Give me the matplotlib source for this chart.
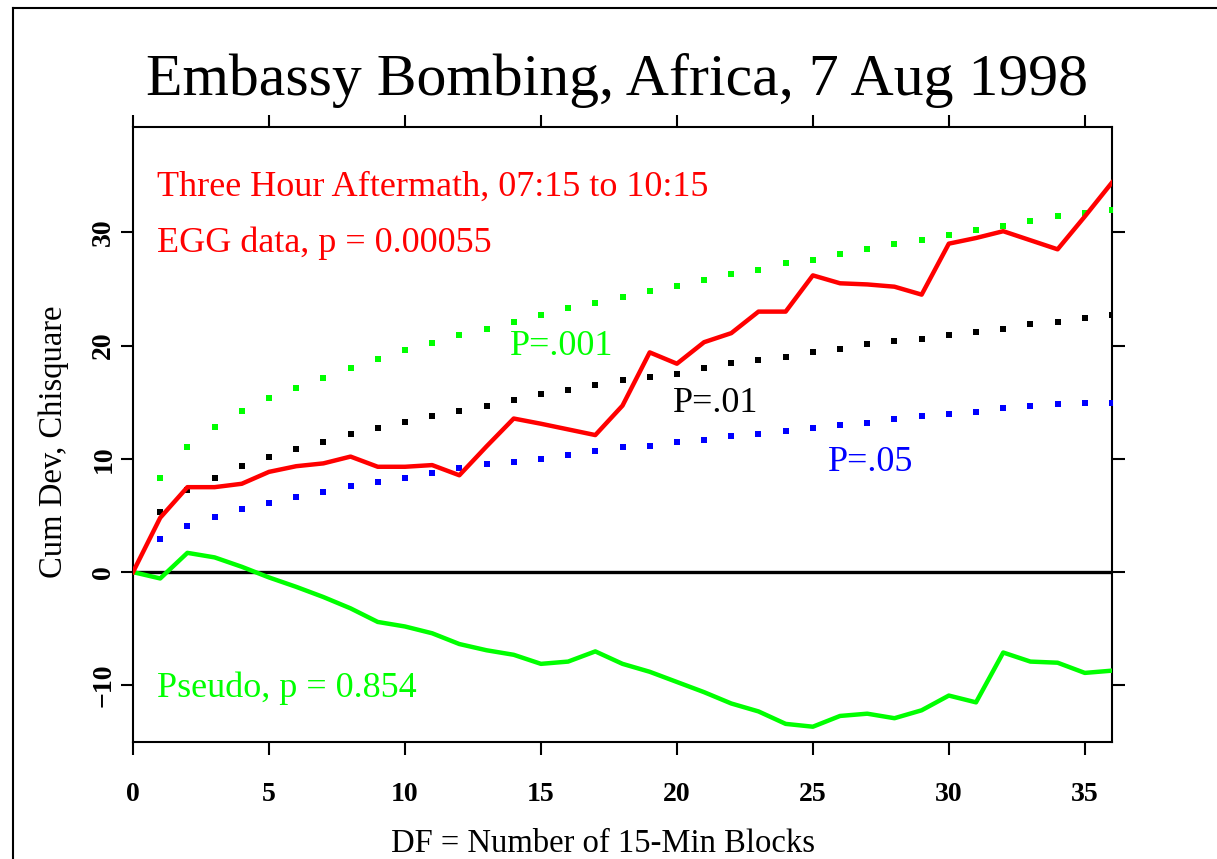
import matplotlib
matplotlib.use("Agg")
import matplotlib.pyplot as plt
from matplotlib.lines import Line2D

# ---- data ----
df = list(range(0, 37))
egg = [0.0, 4.8, 7.5, 7.5, 7.8, 8.85, 9.35, 9.6, 10.2, 9.3, 9.3, 9.45, 8.55,
       11.1, 13.56, 13.1, 12.6, 12.1, 14.7, 19.4, 18.4, 20.3, 21.1, 23.0, 23.0,
       26.2, 25.5, 25.4, 25.2, 24.5, 29.0, 29.5, 30.1, 29.3, 28.5, 31.4, 34.4]
pseudo = [0.0, -0.56, 1.7, 1.3, 0.47, -0.47, -1.3, -2.2, -3.2, -4.4, -4.8, -5.4,
          -6.35, -6.9, -7.3, -8.1, -7.9, -7.0, -8.1, -8.8, -9.7, -10.6, -11.6,
          -12.3, -13.4, -13.65, -12.7, -12.5, -12.9, -12.2, -10.9, -11.5, -7.1,
          -7.9, -8.0, -8.9, -8.7]
df_env = list(range(1, 37))
p001 = [8.27, 11.06, 12.83, 14.24, 15.33, 16.27, 17.15, 18.03, 18.8, 19.6, 20.2,
        20.9, 21.5, 22.1, 22.7, 23.3, 23.75, 24.25, 24.8, 25.3, 25.8, 26.3, 26.7,
        27.3, 27.6, 28.1, 28.5, 29.0, 29.3, 29.8, 30.2, 30.6, 31.0, 31.4, 31.7, 32.0]
p01 = [5.32, 7.24, 8.27, 9.36, 10.18, 10.83, 11.5, 12.18, 12.68, 13.27, 13.77,
       14.24, 14.65, 15.18, 15.71, 16.06, 16.5, 16.93, 17.2, 17.5, 18.06, 18.5,
       18.7, 19.0, 19.4, 19.7, 20.1, 20.4, 20.6, 20.9, 21.2, 21.5, 21.9, 22.1,
       22.4, 22.7]
p05 = [2.88, 4.09, 4.88, 5.56, 6.06, 6.59, 7.09, 7.62, 7.97, 8.27, 8.77, 9.15,
       9.53, 9.74, 10.03, 10.3, 10.69, 11.03, 11.1, 11.45, 11.65, 12.0, 12.2,
       12.45, 12.7, 13.0, 13.2, 13.56, 13.77, 14.0, 14.15, 14.5, 14.65, 14.8,
       14.9, 14.95]
xticks = [0, 5, 10, 15, 20, 25, 30, 35]
yticks = [-10, 0, 10, 20, 30]

title = "Embassy Bombing, Africa, 7 Aug 1998"
xlabel = "DF = Number of 15-Min Blocks"
ylabel = "Cum Dev, Chisquare"

RED = "#ff0000"
GREEN = "#00ff00"
BLUE = "#0000ff"

plt.rcParams['font.family'] = ['Liberation Serif', 'DejaVu Serif']

fig = plt.figure(figsize=(12.17, 8.59), dpi=100)
ax = fig.add_axes([133/1217, 1-742/859, (1112-133)/1217, (742-127)/859])

ax.axhline(0, color="black", lw=2.4, zorder=2)
ax.plot(df_env, p001, ls="none", marker="s", ms=4.2, color=GREEN, mew=0, zorder=3)
ax.plot(df_env, p01, ls="none", marker="s", ms=4.2, color="black", mew=0, zorder=3)
ax.plot(df_env, p05, ls="none", marker="s", ms=4.2, color=BLUE, mew=0, zorder=3)
ax.plot(df, pseudo, color=GREEN, lw=3.2, zorder=4)
ax.plot(df, egg, color=RED, lw=3.2, zorder=5)

ax.set_xlim(0, 36)
ax.set_ylim(-15, 39.3)
ax.set_xticks(xticks)
ax.set_yticks(yticks)
ax.tick_params(direction="out", length=9, width=1.5, top=True, right=True,
               labelsize=20, pad=20)
ax.tick_params(axis="y", pad=3)
for lab in ax.get_yticklabels():
    lab.set_rotation(90)
    lab.set_va("center")
for lab in ax.get_xticklabels() + ax.get_yticklabels():
    lab.set_fontweight("bold")
for s in ax.spines.values():
    s.set_linewidth(1.5)

ax.set_xlabel(xlabel, fontsize=23.5)
ax.xaxis.set_label_coords((603-133)/(1112-133), -0.141)
ax.set_ylabel(ylabel, fontsize=23.5)
ax.yaxis.set_label_coords(-0.065, (742-442)/(742-127))
fig.text(617/1217, 1-95/859, title, fontsize=43, ha="center", va="baseline")

fs = 26
ax.text(0.88, 33.2, "Three Hour Aftermath, 07:15 to 10:15", color=RED, fontsize=fs, va="baseline")
ax.text(0.88, 28.3, "EGG data, p = 0.00055", color=RED, fontsize=fs, va="baseline")
ax.text(0.88, -11.0, "Pseudo, p = 0.854", color=GREEN, fontsize=fs, va="baseline")
ax.text(13.86, 19.15, "P=.001", color=GREEN, fontsize=fs, va="baseline")
ax.text(19.84, 14.15, "P=.01", color="black", fontsize=fs, va="baseline")
ax.text(25.56, 8.94, "P=.05", color=BLUE, fontsize=fs, va="baseline")

# partial outer frame (left and top edges visible in the reference)
fig.add_artist(Line2D([13/1217, 13/1217], [0, 1-8/859], transform=fig.transFigure, color="black", lw=1.5))
fig.add_artist(Line2D([13/1217, 1], [1-8/859, 1-8/859], transform=fig.transFigure, color="black", lw=1.5))

fig.savefig("out.png", dpi=100)
